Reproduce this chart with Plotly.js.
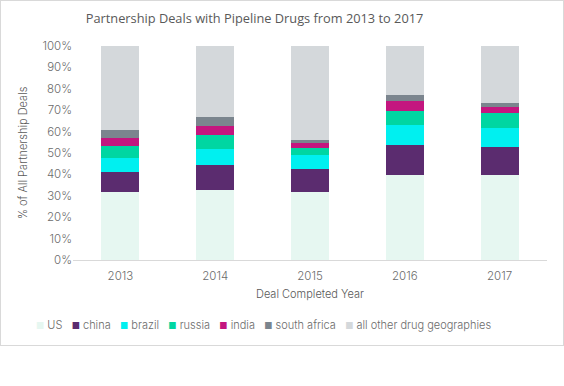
<!DOCTYPE html>
<html>
<head>
<meta charset="utf-8">
<script src="https://cdn.plot.ly/plotly-3.0.1.min.js"></script>
<style>
html,body{margin:0;padding:0;background:#fff;}
#wrap{position:absolute;left:0;top:0;width:562px;height:344px;border:1px solid #d9d9d9;}
#chart{width:562px;height:344px;}
</style>
</head>
<body>
<div id="wrap"><div id="chart"></div></div>
<script>
var years = ['2013', '2014', '2015', '2016', '2017'];
var seriesNames = ['US', 'china', 'brazil', 'russia', 'india', 'south africa', 'all other drug geographies'];
var usVals      = [31.8, 32.7, 31.8, 39.7, 39.7];
var chinaVals   = [9.5, 11.7, 10.7, 14.0, 13.2];
var brazilVals  = [6.5, 7.6, 6.7, 9.4, 8.8];
var russiaVals  = [5.5, 6.6, 3.1, 6.5, 7.0];
var indiaVals   = [3.9, 4.2, 2.4, 4.9, 2.8];
var saVals      = [3.5, 3.9, 1.4, 2.6, 2.0];
var otherVals   = [39.3, 33.3, 43.9, 22.9, 26.5];
var yTickVals   = [0, 10, 20, 30, 40, 50, 60, 70, 80, 90, 100];
var yTickText   = ['0%', '10%', '20%', '30%', '40%', '50%', '60%', '70%', '80%', '90%', '100%'];

var colors = ['#e6f7f1', '#5b2c6f', '#00f0f0', '#00d6a2', '#c4167f', '#7b858e', '#d4d8db'];
var allVals = [usVals, chinaVals, brazilVals, russiaVals, indiaVals, saVals, otherVals];

var traces = allVals.map(function (v, i) {
  return {
    type: 'bar', x: years, y: v, name: seriesNames[i],
    marker: {color: colors[i], line: {width: 0}},
    showlegend: false, hoverinfo: 'name+y'
  };
});

var legendText = seriesNames.map(function (n, i) {
  return '<span style="color:' + colors[i] + ';font-size:9px">■</span> ' + n;
}).join('   ');

var tickFont = {family: 'Inter, "Open Sans", sans-serif', size: 11.5, color: '#6b6b6b', weight: 300};

var layout = {
  width: 562, height: 344,
  margin: {l: 72, r: 15.5, t: 45, b: 85},
  paper_bgcolor: '#ffffff', plot_bgcolor: '#ffffff',
  barmode: 'stack', bargap: 0.6,
  title: {text: 'Partnership Deals with Pipeline Drugs from 2013 to 2017',
          font: {family: '"Open Sans", sans-serif', size: 12.8, color: '#595959'},
          xref: 'paper', x: 0.383, xanchor: 'center', y: 0.95, yanchor: 'middle'},
  xaxis: {
    type: 'category', tickfont: tickFont, showgrid: false,
    showline: true, linecolor: '#d9d9d9', linewidth: 1, ticks: '',
    ticklabelstandoff: 5,
    title: {text: 'Deal Completed Year', font: {family: 'Inter, "Open Sans", sans-serif', size: 11, color: '#595959', weight: 300}, standoff: 8}
  },
  yaxis: {
    range: [0, 100], tickvals: yTickVals, ticktext: yTickText,
    tickfont: tickFont, showgrid: false, zeroline: false, showline: false, ticks: '',
    title: {text: '% of All Partnership Deals', font: {family: 'Inter, "Open Sans", sans-serif', size: 11, color: '#595959', weight: 300}, standoff: 12}
  },
  annotations: [{
    xref: 'paper', yref: 'paper', x: 0.401, y: -0.304, xanchor: 'center', yanchor: 'middle',
    showarrow: false, text: legendText,
    font: {family: 'Inter, "Open Sans", sans-serif', size: 11, color: '#6b6b6b', weight: 300}
  }]
};

Plotly.newPlot('chart', traces, layout, {displayModeBar: false, staticPlot: true});
</script>
</body>
</html>
